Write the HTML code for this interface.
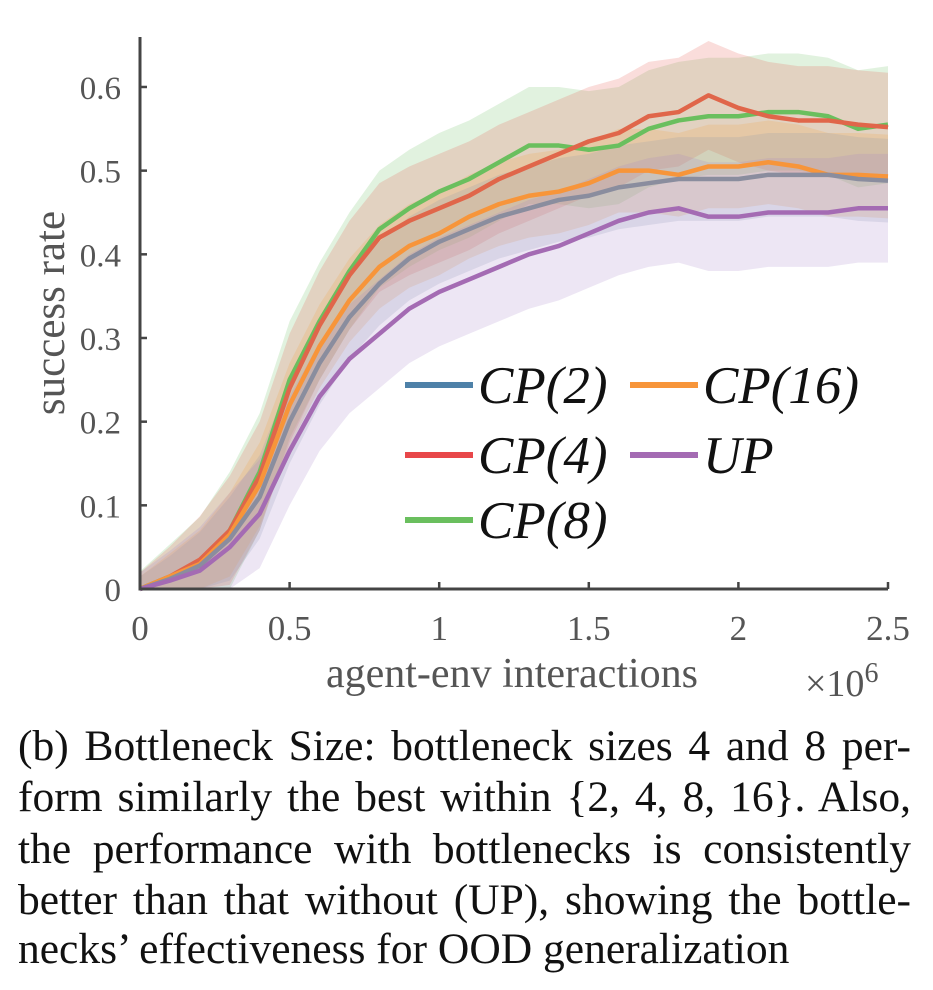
<!DOCTYPE html>
<html><head><meta charset="utf-8"><style>
body{margin:0;background:#fff;width:933px;height:990px;overflow:hidden;position:relative;font-family:"Liberation Serif",serif}
.cap{position:absolute;left:18px;width:893px;font-size:43.5px;color:#111;text-align:justify;text-align-last:justify;white-space:nowrap;line-height:48px}
.cap.last{text-align-last:left}
</style></head><body>
<svg id="chart" width="933" height="720" style="position:absolute;left:0;top:0" font-family="Liberation Serif, serif"></svg>
<div class="cap" style="top:722px">(b) Bottleneck Size: bottleneck sizes 4 and 8 per-</div>
<div class="cap" style="top:773px">form similarly the best within {2, 4, 8, 16}. Also,</div>
<div class="cap" style="top:825px">the performance with bottlenecks is consistently</div>
<div class="cap" style="top:876px">better than that without (UP), showing the bottle-</div>
<div class="cap last" style="top:925px">necks’ effectiveness for OOD generalization</div>
<script>
const xs=[0,0.1,0.2,0.3,0.4,0.5,0.6,0.7,0.8,0.9,1.0,1.1,1.2,1.3,1.4,1.5,1.6,1.7,1.8,1.9,2.0,2.1,2.2,2.3,2.4,2.5];
const cp8=[0,.015,.03,.07,.14,.25,.32,.38,.43,.455,.475,.49,.51,.53,.53,.525,.53,.55,.56,.565,.565,.57,.57,.565,.55,.555];
const cp4=[0,.015,.035,.07,.135,.24,.315,.375,.42,.44,.455,.47,.49,.505,.52,.535,.545,.565,.57,.59,.575,.565,.56,.56,.555,.552];
const cp16=[0,.015,.03,.065,.125,.22,.29,.345,.385,.41,.425,.445,.46,.47,.475,.485,.5,.5,.495,.505,.505,.51,.505,.495,.495,.493];
const cp2=[0,.012,.028,.06,.11,.2,.27,.325,.365,.395,.415,.43,.445,.455,.465,.47,.48,.485,.49,.49,.49,.495,.495,.495,.49,.488];
const up=[0,.01,.022,.05,.09,.165,.23,.275,.305,.335,.355,.37,.385,.4,.41,.425,.44,.45,.455,.445,.445,.45,.45,.45,.455,.455];
const bandWidth=[0.07,0.065,0.05,0.05,0.065];
const xTicks=[0,0.5,1,1.5,2,2.5];
const xTickLabels=["0","0.5","1","1.5","2","2.5"];
const yTicks=[0,0.1,0.2,0.3,0.4,0.5,0.6];
const yTickLabels=["0","0.1","0.2","0.3","0.4","0.5","0.6"];
const names=["cp8","cp4","cp16","cp2","up"];
const colors=["#6abf5e","#e0664a","#f7953a","#8a8d9e","#a46bb3"];
const bandColors=["#6abf5e","#e8574a","#f7a03a","#8896b0","#a480c8"];
const legendColors={"CP(2)":"#4e81a8","CP(4)":"#e8474a","CP(8)":"#6abf5e","CP(16)":"#f7953a","UP":"#a46bb3"};
const series=[cp8,cp4,cp16,cp2,up];
const X=v=>140+v*299.2, Y=v=>589-v*836.7;
const svg=document.getElementById('chart'), NS='http://www.w3.org/2000/svg';
function mk(t,a,p){const e=document.createElementNS(NS,t);for(const k in a)e.setAttribute(k,a[k]);(p||svg).appendChild(e);return e;}
series.forEach((s,i)=>{
  let up1=s.map((v,j)=>X(xs[j])+','+Y(v+bandWidth[i]*Math.min(1,j/4+0.3)));
  let lo=s.map((v,j)=>X(xs[j])+','+Y(Math.max(0,v-bandWidth[i]*Math.min(1,j/4+0.3)))).reverse();
  const p=mk('polygon',{points:up1.concat(lo).join(' '),fill:bandColors[i],'fill-opacity':0.2});
  
  
});
series.forEach((s,i)=>{
  const p=mk('polyline',{points:s.map((v,j)=>X(xs[j])+','+Y(v)).join(' '),fill:'none',stroke:colors[i],'stroke-width':4.5,'stroke-linejoin':'round'});
  
  
});
const ax=mk('path',{d:`M140,37V589H888`,fill:'none',stroke:'#444','stroke-width':3});


xTicks.forEach((t,i)=>{
  mk('line',{x1:X(t),x2:X(t),y1:589,y2:582,stroke:'#444','stroke-width':2.5});
  const e=mk('text',{x:X(t),y:640,'text-anchor':'middle','font-size':35,fill:'#555'});e.textContent=xTickLabels[i];
  
  
});
yTicks.forEach((t,i)=>{
  if(t>0)mk('line',{x1:140,x2:147,y1:Y(t),y2:Y(t),stroke:'#444','stroke-width':2.5});
  const e=mk('text',{x:121,y:Y(t)+12,'text-anchor':'end','font-size':33,fill:'#555'});e.textContent=yTickLabels[i];
  
  
});
let t=mk('text',{x:512,y:687,'text-anchor':'middle','font-size':42,fill:'#555'});t.textContent='agent-env interactions';

t=mk('text',{x:805,y:696,'font-size':38,fill:'#555'});t.innerHTML='×10<tspan dy="-14" font-size="28">6</tspan>';

t=mk('text',{x:0,y:0,'text-anchor':'middle','font-size':43,fill:'#555',transform:'translate(64,313) rotate(-90)'});t.textContent='success rate';

const leg=[["CP(2)",405,385],["CP(16)",630,385],["CP(4)",405,455],["UP",630,455],["CP(8)",405,520]];
leg.forEach(([l,x,y])=>{
  const g=mk('g',{});
  
  
  mk('line',{x1:x,x2:x+68,y1:y,y2:y,stroke:legendColors[l],'stroke-width':6},g);
  const e=mk('text',{x:x+73,y:y+18,'font-size':53,'font-style':'italic',fill:'#111'},g);e.textContent=l;
});
</script>
</body></html>
